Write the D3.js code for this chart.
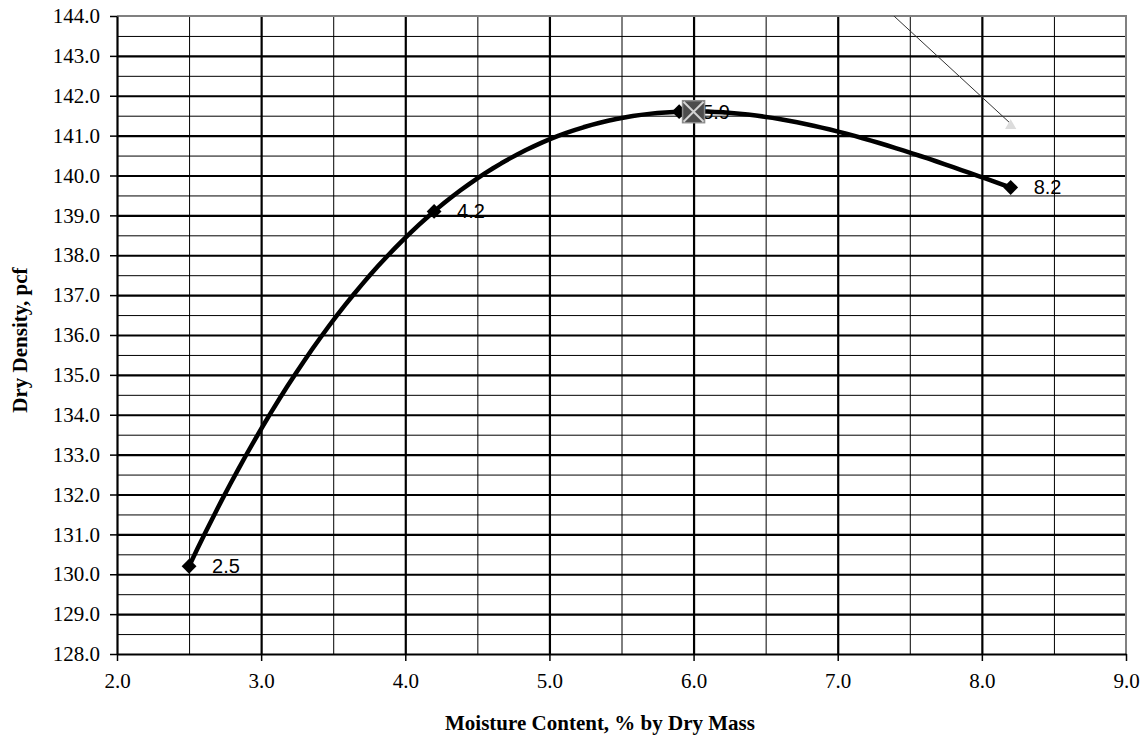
<!DOCTYPE html>
<html>
<head>
<meta charset="utf-8">
<script src="https://cdn.jsdelivr.net/npm/d3@7"></script>
<style>
  html, body { margin: 0; padding: 0; background: #fff; }
  svg { display: block; }
</style>
</head>
<body>
<svg id="chart" width="1143" height="738"></svg>
<script>
(function () {
    'use strict';

    // --- Data ----------------------------------------------------------

    var moisture = [2.5, 4.2, 5.9, 8.2];
    var density = [130.2, 139.1, 141.6, 139.7];

    // max dry density / optimum moisture marker
    var optMoisture = [6.0];
    var optDensity = [141.6];

    // zero air voids line (runs off the top of the plot)
    var zavMoisture = [7.0, 8.2];
    var zavDensity = [145.3, 141.3];

    var xTicks = [2, 3, 4, 5, 6, 7, 8, 9];
    var yTicks = [128, 129, 130, 131, 132, 133, 134, 135, 136,
                  137, 138, 139, 140, 141, 142, 143, 144];

    var SERIF = '"Liberation Serif", "Times New Roman", Times, serif',
        SANS = '"Liberation Sans", Arial, Helvetica, sans-serif';

    // --- Layout --------------------------------------------------------

    var W = 1143, H = 738,
        m = { top: 16, right: 17, bottom: 84, left: 117 },
        iw = W - m.left - m.right,
        ih = H - m.top - m.bottom;

    var svg = d3.select('#chart'),
        g = svg.append('g').attr('transform', 'translate(' + m.left + ',' + m.top + ')');

    var x = d3.scaleLinear().domain([2, 9]).range([0, iw]),
        y = d3.scaleLinear().domain([128, 144]).range([ih, 0]);

    var fmt = d3.format('.1f');

    // --- Helpers -------------------------------------------------------

    // least squares polynomial fit (Excel style trendline)
    function polyfit(xs, ys, order) {
        var n = order + 1, A = [], i, j, k;
        for (i = 0; i < n; i++) {
            A.push([]);
            for (j = 0; j <= n; j++) { A[i].push(0); }
        }
        xs.forEach(function (xv, p) {
            for (i = 0; i < n; i++) {
                for (j = 0; j < n; j++) { A[i][j] += Math.pow(xv, i + j); }
                A[i][n] += ys[p] * Math.pow(xv, i);
            }
        });
        for (i = 0; i < n; i++) {
            for (k = i + 1; k < n; k++) {
                var f = A[k][i] / A[i][i];
                for (j = i; j <= n; j++) { A[k][j] -= f * A[i][j]; }
            }
        }
        var c = new Array(n);
        for (i = n - 1; i >= 0; i--) {
            var s = A[i][n];
            for (j = i + 1; j < n; j++) { s -= A[i][j] * c[j]; }
            c[i] = s / A[i][i];
        }
        return function (xv) {
            return c.reduce(function (acc, ci, p) { return acc + ci * Math.pow(xv, p); }, 0);
        };
    }

    function minors(ticks) {
        return ticks.slice(0, -1).map(function (t) { return t + 0.5; });
    }

    // --- Grid ----------------------------------------------------------

    function gridX(vals, w) {
        g.append('g')
            .attr('transform', 'translate(0,' + ih + ')')
            .call(d3.axisBottom(x).tickValues(vals).tickSize(-ih).tickFormat(''))
            .call(function (s) {
                s.select('.domain').remove();
                s.selectAll('line').attr('stroke', '#000').attr('stroke-width', w);
            });
    }

    function gridY(vals, w) {
        g.append('g')
            .call(d3.axisLeft(y).tickValues(vals).tickSize(-iw).tickFormat(''))
            .call(function (s) {
                s.select('.domain').remove();
                s.selectAll('line').attr('stroke', '#000').attr('stroke-width', w);
            });
    }

    gridX(minors(xTicks), 1);
    gridY(minors(yTicks), 1);
    gridX(xTicks.slice(1, -1), 2.2);
    gridY(yTicks.slice(1, -1), 2.2);

    // plot border (top / right)
    g.append('path')
        .attr('d', 'M0,0H' + iw + 'V' + ih)
        .attr('fill', 'none')
        .attr('stroke', '#808080')
        .attr('stroke-width', 2);

    // --- Axes ----------------------------------------------------------

    var xAxis = g.append('g')
        .attr('transform', 'translate(0,' + ih + ')')
        .call(d3.axisBottom(x).tickValues(xTicks).tickFormat(fmt)
            .tickSize(7).tickSizeOuter(0).tickPadding(12));

    var yAxis = g.append('g')
        .call(d3.axisLeft(y).tickValues(yTicks).tickFormat(fmt)
            .tickSize(7).tickSizeOuter(0).tickPadding(10));

    [xAxis, yAxis].forEach(function (a) {
        a.attr('font-family', SERIF).attr('font-size', 21);
        a.select('.domain').attr('stroke', '#000').attr('stroke-width', 2.2);
        a.selectAll('.tick line').attr('stroke', '#000').attr('stroke-width', 1.5);
        a.selectAll('.tick text')
            .attr('fill', '#000')
            .style('font-family', SERIF)
            .style('font-size', '21px');
    });

    svg.append('text')
        .attr('x', 600)
        .attr('y', 730)
        .attr('text-anchor', 'middle')
        .style('font-family', SERIF)
        .style('font-size', '21px')
        .style('font-weight', 'bold')
        .text('Moisture Content, % by Dry Mass');

    svg.append('text')
        .attr('transform', 'translate(27,340) rotate(-90)')
        .attr('text-anchor', 'middle')
        .style('font-family', SERIF)
        .style('font-size', '21px')
        .style('font-weight', 'bold')
        .text('Dry Density, pcf');

    // --- Zero air voids line -------------------------------------------

    svg.append('defs').append('clipPath').attr('id', 'plot-clip')
        .append('rect').attr('width', iw).attr('height', ih);

    var zav = zavMoisture.map(function (d, i) { return [d, zavDensity[i]]; });

    g.append('path')
        .datum(zav)
        .attr('clip-path', 'url(#plot-clip)')
        .attr('fill', 'none')
        .attr('stroke', '#333')
        .attr('stroke-width', 1)
        .attr('d', d3.line()
            .x(function (d) { return x(d[0]); })
            .y(function (d) { return y(d[1]); }));

    g.append('path')
        .attr('transform', 'translate(' + x(zav[1][0]) + ',' + (y(zav[1][1]) + 2) + ')')
        .attr('d', d3.symbol().type(d3.symbolTriangle).size(55)())
        .attr('fill', '#dcdcdc');

    // --- Compaction curve ----------------------------------------------

    var fit = polyfit(moisture, density, 3),
        lo = d3.min(moisture),
        hi = d3.max(moisture),
        samples = d3.range(0, 101).map(function (i) {
            var xv = lo + (hi - lo) * i / 100;
            return [xv, fit(xv)];
        });

    g.append('path')
        .datum(samples)
        .attr('fill', 'none')
        .attr('stroke', '#000')
        .attr('stroke-width', 4.5)
        .attr('stroke-linejoin', 'round')
        .attr('d', d3.line()
            .x(function (d) { return x(d[0]); })
            .y(function (d) { return y(d[1]); }));

    var pts = moisture.map(function (d, i) { return { mc: d, dd: density[i] }; });

    g.selectAll('.pt')
        .data(pts)
        .enter().append('path')
        .attr('class', 'pt')
        .attr('transform', function (d) {
            return 'translate(' + x(d.mc) + ',' + y(d.dd) + ') rotate(45)';
        })
        .attr('d', d3.symbol().type(d3.symbolSquare).size(110)())
        .attr('fill', '#000');

    g.selectAll('.pt-label')
        .data(pts)
        .enter().append('text')
        .attr('class', 'pt-label')
        .attr('x', function (d) { return x(d.mc) + 23; })
        .attr('y', function (d) { return y(d.dd) + 7; })
        .style('font-family', SANS)
        .style('font-size', '20px')
        .text(function (d) { return fmt(d.mc); });

    // --- Optimum marker ------------------------------------------------

    var opt = g.selectAll('.opt')
        .data(optMoisture.map(function (d, i) { return [d, optDensity[i]]; }))
        .enter().append('g')
        .attr('class', 'opt')
        .attr('transform', function (d) {
            return 'translate(' + x(d[0]) + ',' + y(d[1]) + ')';
        });

    opt.append('rect')
        .attr('x', -11).attr('y', -11)
        .attr('width', 22).attr('height', 22)
        .attr('fill', '#4d4d4d')
        .attr('stroke', '#8c8c8c')
        .attr('stroke-width', 1.5);

    opt.append('path')
        .attr('d', 'M-10,-10L10,10M10,-10L-10,10')
        .attr('stroke', '#d4d4d4')
        .attr('stroke-width', 2);
}());
</script>
</body>
</html>
